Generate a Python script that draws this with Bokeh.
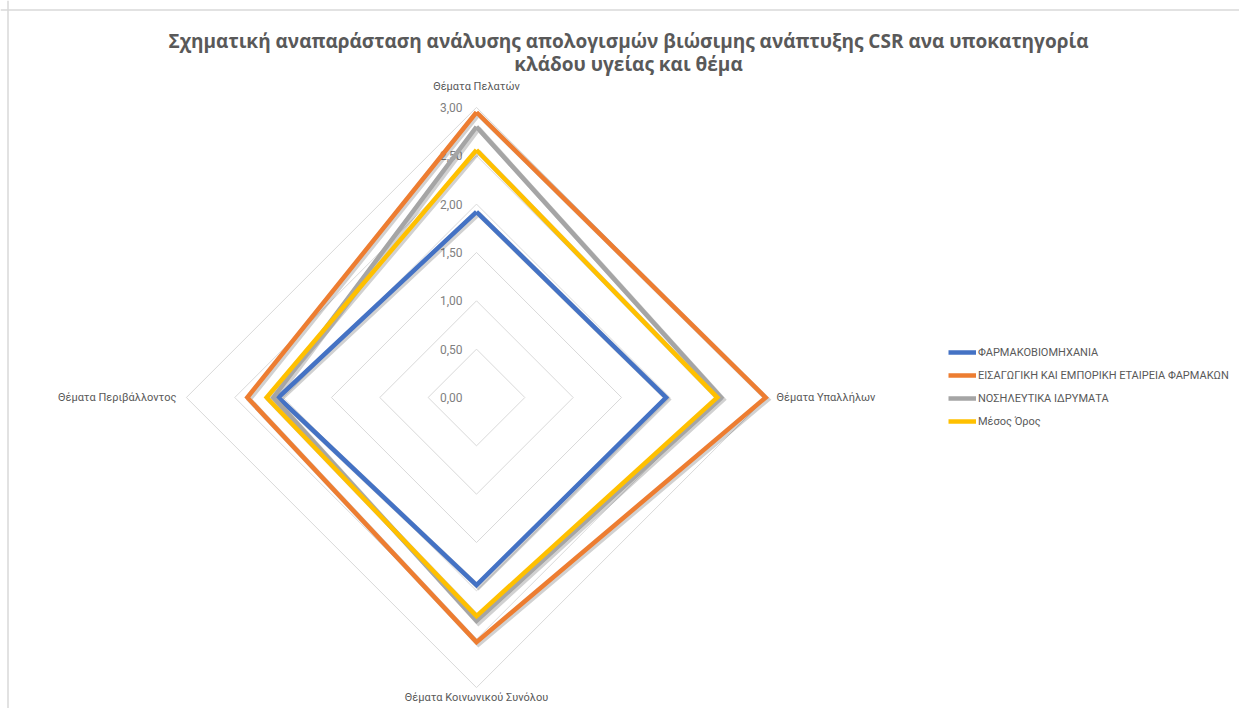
import numpy as np
from bokeh.plotting import figure
from bokeh.models import Range1d, Legend, LegendItem, Label, Span
from bokeh.embed import file_html
from bokeh.resources import INLINE
from bokeh.core.properties import value

# ---------------- data ----------------
title_lines = [
    "Σχηματική αναπαράσταση ανάλυσης απολογισμών βιώσιμης ανάπτυξης CSR ανα υποκατηγορία",
    "κλάδου υγείας και θέμα",
]
categories = ["Θέματα Πελατών", "Θέματα Υπαλλήλων", "Θέματα Κοινωνικού Συνόλου", "Θέματα Περιβάλλοντος"]
series_names = [
    "ΦΑΡΜΑΚΟΒΙΟΜΗΧΑΝΙΑ",
    "ΕΙΣΑΓΩΓΙΚΗ ΚΑΙ ΕΜΠΟΡΙΚΗ ΕΤΑΙΡΕΙΑ ΦΑΡΜΑΚΩΝ",
    "ΝΟΣΗΛΕΥΤΙΚΑ ΙΔΡΥΜΑΤΑ",
    "Μέσος Όρος",
]
pharma_industry = [1.92, 1.96, 1.94, 2.05]
import_trade = [2.95, 2.99, 2.53, 2.37]
hospitals = [2.80, 2.53, 2.31, 2.10]
average = [2.56, 2.49, 2.26, 2.17]
tick_values = [0.0, 0.5, 1.0, 1.5, 2.0, 2.5, 3.0]
tick_labels = ["0,00", "0,50", "1,00", "1,50", "2,00", "2,50", "3,00"]

series_values = [pharma_industry, import_trade, hospitals, average]
series_colors = ["#4472C4", "#ED7D31", "#A5A5A5", "#FFC000"]

# ---------------- layout ----------------
W, H = 1239, 708
CX, CY = 476, 397          # centre of radar in pixels (from top-left)
S = 96.7                   # pixels per unit
FONT = "Roboto"

x_range = Range1d(-CX / S, (W - CX) / S)
y_range = Range1d(-(H - CY) / S, CY / S)

p = figure(width=W, height=H, x_range=x_range, y_range=y_range,
           output_backend="svg", toolbar_location=None,
           x_axis_location=None, y_axis_location=None,
           min_border=0, background_fill_color="white")
p.grid.visible = False
p.outline_line_color = None

# chart-area border (left and top edges visible)
p.add_layout(Span(location=(7.5 - CX) / S, dimension="height",
                  line_color="#D9D9D9", line_width=1.5))
p.add_layout(Span(location=(CY - 9.5) / S, dimension="width",
                  line_color="#D9D9D9", line_width=1.5))

n = len(categories)
theta = np.pi / 2 - np.arange(n) * 2 * np.pi / n   # clockwise from top


def polar(r):
    r = np.asarray(r, dtype=float)
    xs = r * np.cos(theta)
    ys = r * np.sin(theta)
    return list(np.append(xs, xs[0])), list(np.append(ys, ys[0]))


# grid diamonds
for tv in tick_values[1:]:
    gx, gy = polar([tv] * n)
    p.line(gx, gy, line_color="#D9D9D9", line_width=1)

# tick labels
p.text(x=[0.0] * len(tick_values), y=tick_values, text=tick_labels,
       text_font=value(FONT), text_font_size="12px", text_color="#7F7F7F",
       text_align="right", text_baseline="middle", x_offset=-14)

# category labels
rmax = tick_values[-1]
p.text(x=[0.0], y=[rmax], text=[categories[0]], text_font=value(FONT),
       text_font_size="11px", text_color="#595959", text_align="center",
       text_baseline="middle", y_offset=-21)
p.text(x=[rmax], y=[0.0], text=[categories[1]], text_font=value(FONT),
       text_font_size="11px", text_color="#595959", text_align="left",
       text_baseline="middle", x_offset=10)
p.text(x=[0.0], y=[-rmax], text=[categories[2]], text_font=value(FONT),
       text_font_size="11px", text_color="#595959", text_align="center",
       text_baseline="middle", y_offset=10)
p.text(x=[-rmax], y=[0.0], text=[categories[3]], text_font=value(FONT),
       text_font_size="11px", text_color="#595959", text_align="right",
       text_baseline="middle", x_offset=-10)

# shadows
sh = 2.0 / S
for vals in series_values:
    sx, sy = polar(vals)
    p.line([v + sh for v in sx], [v - sh for v in sy], line_color="#000000",
           line_alpha=0.18, line_width=5, line_join="miter")

# series
renderers = []
for vals, col in zip(series_values, series_colors):
    sx, sy = polar(vals)
    r = p.line(sx, sy, line_color=col, line_width=4.5, line_join="miter")
    renderers.append(r)

legend = Legend(items=[LegendItem(label=nm, renderers=[r]) for nm, r in zip(series_names, renderers)],
                location=(948, 277), padding=0, margin=0, spacing=3,
                glyph_width=28, glyph_height=20, label_height=20, label_standoff=2,
                label_text_font=FONT, label_text_font_size="11px", label_text_color="#595959",
                border_line_alpha=0, background_fill_alpha=0)
p.add_layout(legend, "center")

# title
p.add_layout(Label(x=628, y=H - 40, x_units="screen", y_units="screen", text=title_lines[0],
                   text_font="Open Sans", text_font_size="19px", text_font_style="bold",
                   text_color="#595959", text_align="center", text_baseline="middle"))
p.add_layout(Label(x=628, y=H - 63, x_units="screen", y_units="screen", text=title_lines[1],
                   text_font="Open Sans", text_font_size="19px", text_font_style="bold",
                   text_color="#595959", text_align="center", text_baseline="middle"))

open("out.html", "w").write(file_html(p, INLINE))
